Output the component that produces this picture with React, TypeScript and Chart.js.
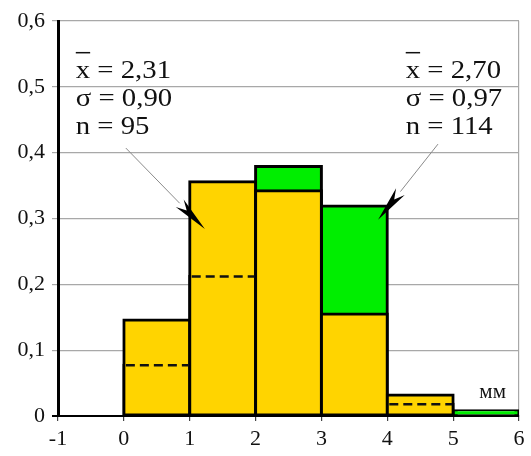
import { useEffect, useRef } from 'react';
import { Chart, registerables } from 'chart.js';

Chart.register(...registerables);

// Histogram bins (mm) and relative frequencies of the two samples
const binStarts = [0, 1, 2, 3, 4, 5];
const binWidth = 1;
const freqYellow: (number | null)[] = [0.146, 0.356, 0.342, 0.155, 0.032, null]; // n = 95
const freqGreen: number[] = [0.077, 0.212, 0.379, 0.319, 0.018, 0.008]; // n = 114

const yTickValues = [0, 0.1, 0.2, 0.3, 0.4, 0.5, 0.6];
const xTickValues = [-1, 0, 1, 2, 3, 4, 5, 6];

const statsYellow = ['x = 2,31', 'σ = 0,90', 'n = 95'];
const statsGreen = ['x = 2,70', 'σ = 0,97', 'n = 114'];
const unitLabel = 'мм';

const YELLOW = '#FFD400';
const GREEN = '#00EE00';
const GRID = '#a8a8a8';
const FONT = 'Liberation Serif';
const TEXT_STRETCH = 1.15;

type Callout = {
  lines: string[];
  textAt: [number, number];
  from: [number, number];
  tip: [number, number];
};

const callouts: Callout[] = [
  { lines: statsYellow, textAt: [-0.73, 0.523], from: [0.03, 0.407], tip: [1.23, 0.284] },
  { lines: statsGreen, textAt: [4.28, 0.523], from: [4.77, 0.413], tip: [3.86, 0.298] },
];

// text drawn slightly widened, like the typeset labels of the original figure
function wideText(ctx: CanvasRenderingContext2D, t: string, x: number, y: number) {
  ctx.save();
  ctx.translate(x, y);
  ctx.scale(TEXT_STRETCH, 1);
  ctx.fillText(t, 0, 0);
  ctx.restore();
}

const overlayPlugin = {
  id: 'histOverlay',
  afterDatasetsDraw(chart: any) {
    const { ctx, scales } = chart;
    const xs = scales.x;
    const ys = scales.y;
    // dashed marks: green level where it sits behind the yellow bar
    ctx.save();
    ctx.strokeStyle = '#111';
    ctx.lineWidth = 2.5;
    ctx.setLineDash([9, 5]);
    binStarts.forEach((start, i) => {
      const a = freqYellow[i];
      const b = freqGreen[i];
      if (a == null || b >= a) return;
      const y = ys.getPixelForValue(b);
      const x0 = xs.getPixelForValue(start) + 2;
      const x1 = xs.getPixelForValue(start + binWidth) - 1;
      ctx.beginPath();
      ctx.moveTo(x0, y);
      ctx.lineTo(x1, y);
      ctx.stroke();
    });
    ctx.restore();
  },
  afterDraw(chart: any) {
    const { ctx, scales } = chart;
    const xs = scales.x;
    const ys = scales.y;
    const px = (p: [number, number]) => [xs.getPixelForValue(p[0]), ys.getPixelForValue(p[1])];

    ctx.save();
    callouts.forEach((c) => {
      // leader line
      const [fx, fy] = px(c.from);
      const [tx, ty] = px(c.tip);
      const ang = Math.atan2(ty - fy, tx - fx);
      const headLen = 36;
      const bx = tx - Math.cos(ang) * headLen;
      const by = ty - Math.sin(ang) * headLen;
      ctx.strokeStyle = '#8a8a8a';
      ctx.lineWidth = 1;
      ctx.beginPath();
      ctx.moveTo(fx, fy);
      ctx.lineTo(bx, by);
      ctx.stroke();
      // dart-shaped arrowhead
      const nx = -Math.sin(ang);
      const ny = Math.cos(ang);
      const w = 5.5;
      const nLen = headLen - 10;
      ctx.fillStyle = '#000';
      ctx.beginPath();
      ctx.moveTo(tx, ty);
      ctx.lineTo(bx + nx * w, by + ny * w);
      ctx.lineTo(tx - Math.cos(ang) * nLen, ty - Math.sin(ang) * nLen);
      ctx.lineTo(bx - nx * w, by - ny * w);
      ctx.closePath();
      ctx.fill();

      // statistics text
      const [lx, ly] = px(c.textAt);
      ctx.font = `25px ${FONT}`;
      ctx.fillStyle = '#111';
      ctx.textAlign = 'left';
      ctx.textBaseline = 'middle';
      c.lines.forEach((t, i) => {
        wideText(ctx, t, lx, ly + i * 28);
      });
      // bar over the mean symbol
      const xw = ctx.measureText('x').width * TEXT_STRETCH;
      ctx.strokeStyle = '#111';
      ctx.lineWidth = 1.5;
      ctx.beginPath();
      ctx.moveTo(lx, ly - 19);
      ctx.lineTo(lx + xw, ly - 19);
      ctx.stroke();
    });

    // unit label
    ctx.font = `21px ${FONT}`;
    ctx.fillStyle = '#111';
    ctx.textAlign = 'center';
    ctx.textBaseline = 'middle';
    ctx.fillText(unitLabel, xs.getPixelForValue(5.6), ys.getPixelForValue(0.035));
    ctx.restore();
  },
};

export default function App() {
  const canvasRef = useRef<HTMLCanvasElement | null>(null);

  useEffect(() => {
    document.body.style.margin = '0';
    const canvas = canvasRef.current;
    if (!canvas) return;

    const centers = binStarts.map((s) => s + binWidth / 2);
    const barStyle = {
      borderColor: '#000',
      borderWidth: 3,
      borderSkipped: false,
      inflateAmount: 1.5,
      grouped: false,
      barPercentage: 1,
      categoryPercentage: 1,
    };

    const chart = new Chart(canvas, {
      type: 'bar',
      data: {
        datasets: [
          {
            label: 'n = 95',
            data: centers.map((x, i) => ({ x, y: freqYellow[i] })),
            backgroundColor: YELLOW,
            ...barStyle,
          } as any,
          {
            label: 'n = 114',
            data: centers.map((x, i) => ({ x, y: freqGreen[i] })),
            backgroundColor: GREEN,
            ...barStyle,
          } as any,
        ],
      },
      options: {
        responsive: false,
        animation: false,
        devicePixelRatio: 1,
        font: { family: FONT },
        layout: { padding: { top: 21, right: 12, left: 0, bottom: 0 } },
        plugins: {
          legend: { display: false },
          tooltip: { enabled: false },
        },
        scales: {
          x: {
            type: 'linear',
            min: -1,
            max: 6,
            offset: false,
            afterBuildTicks: (scale: any) => {
              scale.ticks = xTickValues.map((v) => ({ value: v }));
            },
            afterFit: (scale: any) => {
              scale.height = 40;
            },
            ticks: {
              font: { family: FONT, size: 22 },
              color: '#111',
              padding: 5,
              maxRotation: 0,
              callback: (v: any) => String(v),
            },
            grid: {
              offset: false,
              drawOnChartArea: true,
              color: (c: any) => (c.tick && c.tick.value === 6 ? GRID : 'rgba(0,0,0,0)'),
              tickColor: '#444',
              tickLength: 5,
              lineWidth: 1.2,
            },
            border: { color: '#000', width: 2 },
          },
          y: {
            type: 'linear',
            min: 0,
            max: 0.6,
            afterBuildTicks: (scale: any) => {
              scale.ticks = yTickValues.map((v) => ({ value: v }));
            },
            afterFit: (scale: any) => {
              scale.width = 58;
            },
            ticks: {
              font: { family: FONT, size: 22 },
              color: '#111',
              padding: 7,
              callback: (v: any) => (Number(v) === 0 ? '0' : Number(v).toFixed(1).replace('.', ',')),
            },
            grid: {
              color: (c: any) => (c.tick && c.tick.value === 0 ? '#000' : GRID),
              tickColor: (c: any) => (c.tick && c.tick.value === 0 ? '#000' : GRID),
              tickLength: 6,
              lineWidth: (c: any) => (c.tick && c.tick.value === 0 ? 2 : 1.2),
            },
            border: { color: '#000', width: 3 },
          },
        },
      },
      plugins: [overlayPlugin],
    } as any);

    return () => chart.destroy();
  }, []);

  return (
    <div style={{ width: 531, height: 456 }}>
      <canvas ref={canvasRef} width={531} height={456} />
    </div>
  );
}
